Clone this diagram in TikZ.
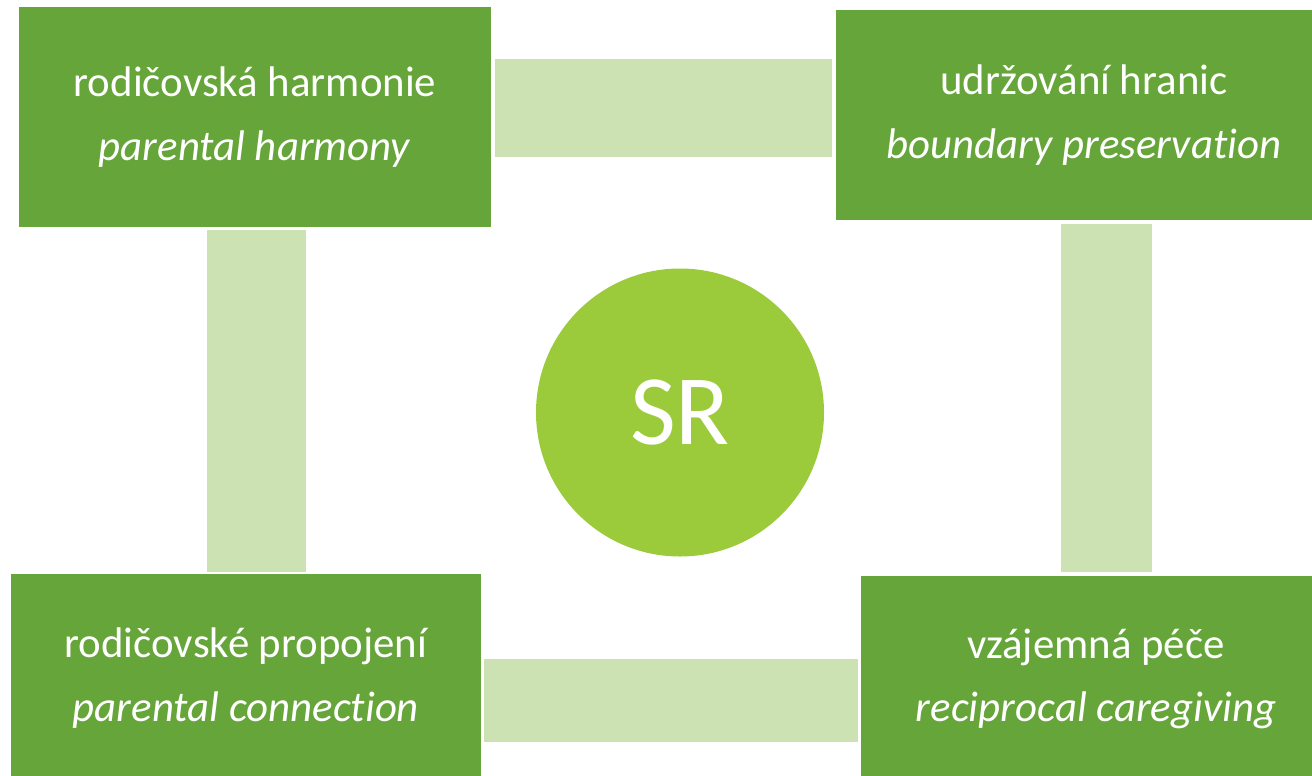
\documentclass[tikz,border=0pt]{standalone}
\usepackage{fontspec}
\setmainfont{Carlito}[Ligatures=NoCommon]
\definecolor{boxgreen}{HTML}{66A539}
\definecolor{linkgreen}{HTML}{CCE2B3}
\definecolor{hubgreen}{HTML}{9BCB3B}
\begin{document}
\begin{tikzpicture}[x=1bp,y=-1bp,
  stage/.style={rectangle, fill=boxgreen, text=white, align=center, inner sep=0pt,
    font=\fontsize{43}{64}\selectfont},
  link/.style={rectangle, fill=linkgreen, inner sep=0pt},
  hub/.style={circle, fill=hubgreen, text=white, inner sep=0pt,
    minimum size=288bp, font=\fontsize{100}{114}\selectfont}]
  \useasboundingbox (0,0) rectangle (1312,775);
  \clip (0,0) rectangle (1312,775);

  % four stages of the cycle
  \node[stage, minimum width=472bp, minimum height=220bp] (harmony) at (255,117)
    {rodičovská harmonie\\\textit{parental harmony}};
  \node[stage, minimum width=496bp, minimum height=210bp] (boundary) at (1084,115)
    {udržování hranic\\\textit{boundary preservation}};
  \node[stage, minimum width=470bp, minimum height=208bp] (connection) at (246,678)
    {rodičovské propojení\\\textit{parental connection}};
  \node[stage, minimum width=470bp, minimum height=206bp] (caregiving) at (1096,679)
    {vzájemná péče\\\textit{reciprocal caregiving}};

  % bars linking neighbouring stages
  \node[link, minimum width=337bp, minimum height=98bp] (top) at (663.5,108) {};
  \node[link, minimum width=99bp, minimum height=342bp] (left) at (256.5,401) {};
  \node[link, minimum width=91bp, minimum height=348bp] (right) at (1106.5,398) {};
  \node[link, minimum width=374bp, minimum height=83bp] (bottom) at (671,700.5) {};

  % centre
  \node[hub] (sr) at (680,412.5) {SR};
\end{tikzpicture}
\end{document}
